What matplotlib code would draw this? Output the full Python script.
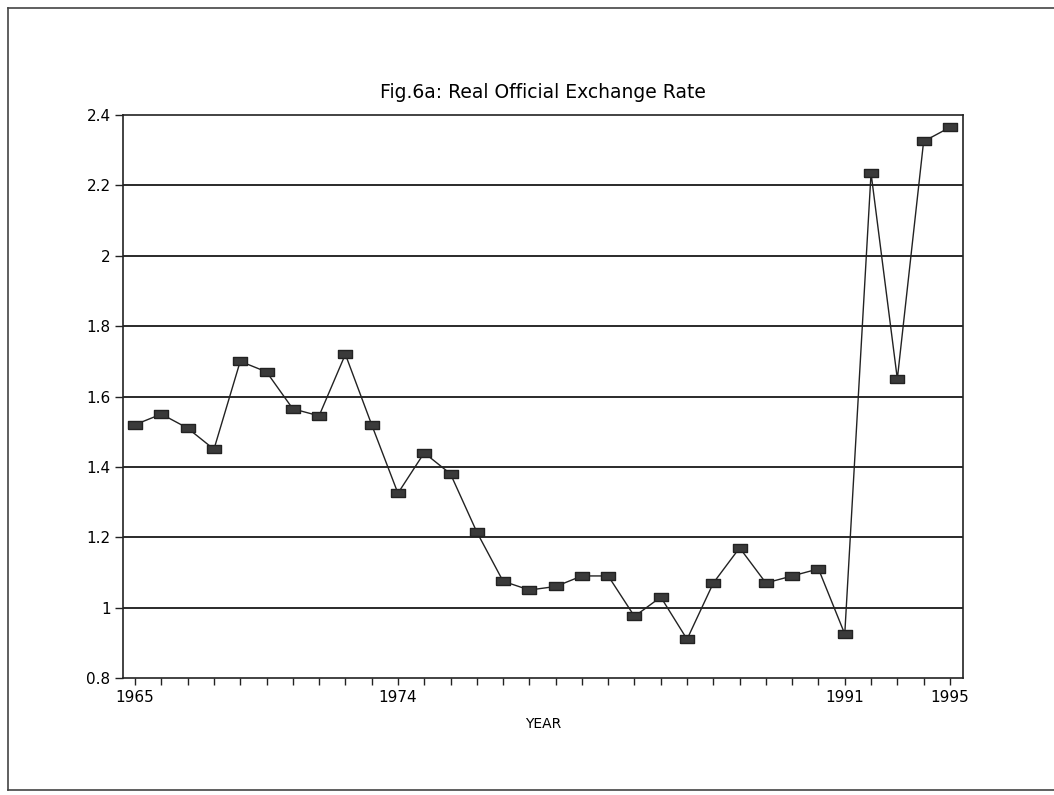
import numpy as np
import matplotlib
matplotlib.use('Agg')
import matplotlib.pyplot as plt
from matplotlib.lines import Line2D

# values, one per tick (32 points)
rates = [1.52, 1.55, 1.51, 1.45, 1.70, 1.67, 1.565, 1.545, 1.72, 1.52,
         1.325, 1.44, 1.38, 1.215, 1.075, 1.05, 1.06, 1.09, 1.09, 0.975,
         1.03, 0.91, 1.07, 1.17, 1.07, 1.09, 1.11, 0.925, 2.235, 1.65,
         2.325, 2.365]
label_pos = [0, 10, 27, 31]
label_txt = ['1965', '1974', '1991', '1995']
y_ticks = [0.8, 1, 1.2, 1.4, 1.6, 1.8, 2, 2.2, 2.4]
y_labels = ['0.8', '1', '1.2', '1.4', '1.6', '1.8', '2', '2.2', '2.4']

fig = plt.figure(figsize=(10.54, 7.95), dpi=100)
ax = fig.add_axes([0.1167, 0.1472, 0.797, 0.7081])

x = np.arange(len(rates))
# wide flat square marker like the original plot
box = [(-1.6, -1), (1.6, -1), (1.6, 1), (-1.6, 1), (-1.6, -1)]
ax.plot(x, rates, color='#222222', linewidth=1.0, marker=box, markersize=10,
        markerfacecolor='#3a3a3a', markeredgecolor='#222222', zorder=3)

ax.set_xlim(-0.46, 31.5)
ax.set_ylim(0.8, 2.4)
ax.set_yticks(y_ticks)
ax.set_yticklabels(y_labels)
for yv in y_ticks[1:-1]:
    ax.axhline(yv, color='#2a2a2a', linewidth=1.4, zorder=1)

ax.set_xticks(x, minor=True)
ax.set_xticks(label_pos)
ax.set_xticklabels(label_txt)
ax.tick_params(axis='x', which='both', direction='out', length=5, width=1.0,
               color='#222222', labelsize=11, pad=4)
ax.tick_params(axis='y', direction='out', length=6, width=1.0,
               color='#222222', labelsize=11, pad=3)
for s in ax.spines.values():
    s.set_color('#222222')
    s.set_linewidth(1.2)

ax.set_xlabel('YEAR', fontsize=10, labelpad=8)
ax.set_title('Fig.6a: Real Official Exchange Rate', fontsize=13.5, pad=12)

# border of the scanned page
for xs, ys in [([0.008, 0.008], [0.006, 0.99]),
               ([0.008, 1.0], [0.99, 0.99]),
               ([0.008, 1.0], [0.006, 0.006])]:
    fig.add_artist(Line2D(xs, ys, color='#444444', linewidth=1.2,
                          transform=fig.transFigure))

plt.savefig('out.png', dpi=100)
